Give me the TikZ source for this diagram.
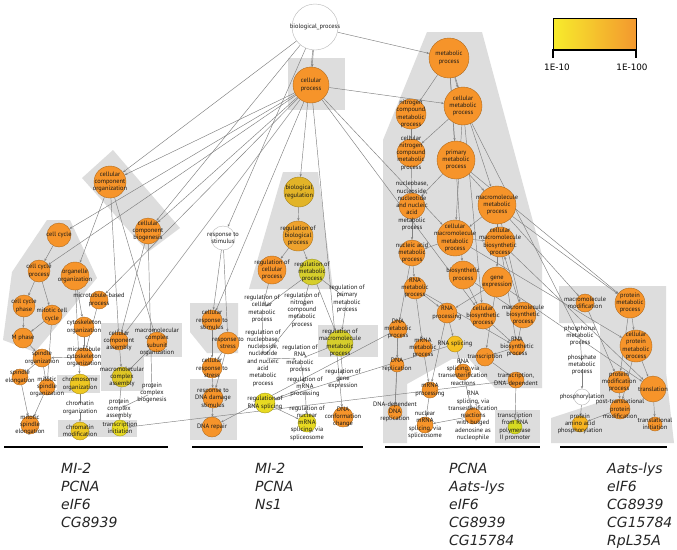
\documentclass[tikz,border=0pt]{standalone}
\usepackage{fontspec}
\setmainfont{PT Sans}
\newfontfamily\genefont{DejaVu Sans}
\usetikzlibrary{arrows.meta}
\pgfdeclarelayer{bg}
\pgfdeclarelayer{edges}
\pgfdeclarelayer{labels}
\pgfsetlayers{bg,edges,main,labels}
\definecolor{cor}{RGB}{246,148,42}
\definecolor{corl}{RGB}{238,162,45}
\definecolor{cgold}{RGB}{226,180,40}
\definecolor{cygr}{RGB}{214,206,44}
\definecolor{cyl1}{RGB}{246,192,32}
\definecolor{cyl2}{RGB}{214,218,34}
\definecolor{cyl3}{RGB}{246,180,34}
\definecolor{cyl4}{RGB}{232,218,34}
\definecolor{cyl5}{RGB}{238,200,34}
\definecolor{cyl6}{RGB}{222,198,38}
\definecolor{gbg}{RGB}{221,221,221}
\definecolor{edgec}{RGB}{128,128,128}
\definecolor{labc}{RGB}{25,25,25}
\definecolor{legy}{RGB}{247,236,44}
\definecolor{lego}{RGB}{243,152,46}
\tikzset{
  gocirc/.style={circle,inner sep=0pt,line width=0.4pt},
  golab/.style={align=center,inner sep=0pt,font=\fontsize{6.4}{7.3}\selectfont,text=labc},
  goedge/.style={draw=edgec,line width=0.45pt,-{Stealth[length=2.8pt,width=2.2pt]}},
  gene/.style={anchor=base west,inner sep=0pt,font=\genefont\itshape\fontsize{14}{16}\selectfont,text=black!85},
  legl/.style={inner sep=0pt,font=\genefont\fontsize{8.8}{10}\selectfont},
  bar/.style={line width=2.5pt,black}
}
\newcommand\gn[6]{%
  \node[gocirc,fill=#5,draw=#5!72!black,minimum size={2*#4}] (#1) at (#2,#3) {};
  \begin{pgfonlayer}{labels}\node[golab] (#1l) at (#2,#3) {#6};\end{pgfonlayer}}
\newcommand\tn[4]{%
  \node[gocirc,draw=none,fill=none,minimum size=8] (#1) at (#2,#3) {};
  \begin{pgfonlayer}{labels}\node[golab] (#1l) at (#2,#3) {#4};\end{pgfonlayer}}
\begin{document}
\begin{tikzpicture}[x=1pt,y=-1pt]
\useasboundingbox (0,0) rectangle (677,549);
\begin{pgfonlayer}{bg}
\fill[white] (0,0) rectangle (677,549);
% grey groups
\fill[gbg] (288,58) rectangle (345,110);
\fill[gbg] (427,32) -- (482,32) -- (542,255) -- (542,388) -- (495,388) -- (468,358) -- (452,359) -- (407,384) -- (407,443) -- (383,443) -- (383,140) -- cycle;
\fill[gbg] (495,410) rectangle (540,443);
\fill[gbg] (283,172) -- (318,172) -- (333,289) -- (249,289) -- cycle;
\fill[gbg] (190,303) -- (238,303) -- (238,353) -- (207,353) -- (190,332) -- cycle;
\fill[gbg] (190,379) rectangle (237,440);
\fill[gbg] (318,325) rectangle (378,357);
\fill[gbg] (47,220) -- (70,220) -- (97,278) -- (35,352) -- (3,340) -- (12,272) -- cycle;
\fill[gbg] (113,150) -- (82,178) -- (148,252) -- (180,228) -- cycle;
\fill[gbg] (57,375) rectangle (100,393);
\fill[gbg] (58,420) rectangle (100,437);
\fill[gbg] (101,323) rectangle (182,357);
\fill[gbg] (101,357) rectangle (144,391);
\fill[gbg] (100,420) rectangle (137,437);
\fill[gbg] (559,286) -- (666,286) -- (666,372) -- (674,443) -- (551,443) -- (551,418) -- (600,402) -- (600,323) -- (559,323) -- cycle;
\end{pgfonlayer}

% ---------- top
\gn{bp}{315}{27}{23}{white}{biological\_process}
\gn{cp}{311}{85}{18}{cor}{cellular\\process}
% ---------- right cluster
\gn{mp}{449}{58}{20}{cor}{metabolic\\process}
\gn{cmp}{463}{106}{19}{cor}{cellular\\metabolic\\process}
\gn{ncmp}{411}{114}{15}{cor}{nitrogen\\compound\\metabolic\\process}
\gn{cncmp}{411}{153}{14}{cor}{cellular\\nitrogen\\compound\\metabolic\\process}
\gn{pmp}{456}{160}{19}{cor}{primary\\metabolic\\process}
\gn{nnmp}{412}{206}{13}{cor}{nucleobase,\\nucleoside,\\nucleotide\\and nucleic\\acid\\metabolic\\process}
\gn{mmp}{497}{205}{19}{cor}{macromolecule\\metabolic\\process}
\gn{cmmp}{455}{238}{18}{cor}{cellular\\macromolecule\\metabolic\\process}
\gn{cmbp}{500}{242}{15}{cor}{cellular\\macromolecule\\biosynthetic\\process}
\gn{nam}{412}{253}{13}{cor}{nucleic acid\\metabolic\\process}
\gn{bsp}{463}{275}{14}{cor}{biosynthetic\\process}
\gn{ge}{497}{282}{15}{cor}{gene\\expression}
\gn{rnamp}{415}{288}{11}{cor}{RNA\\metabolic\\process}
\gn{rnaproc}{447}{313}{10}{cor}{RNA\\processing}
\gn{cbp}{483}{316}{13}{cor}{cellular\\biosynthetic\\process}
\gn{mmbp}{523}{315}{13}{cor}{macromolecule\\biosynthetic\\process}
\gn{dnamp}{398}{329}{9}{cor}{DNA\\metabolic\\process}
\gn{mrnamp}{423}{348}{9}{cor}{mRNA\\metabolic\\process}
\gn{rnaspl}{455}{344}{8}{cyl1}{RNA splicing}
\gn{rnabs}{517}{347}{8}{cor}{RNA\\biosynthetic\\process}
\gn{trans}{485}{357}{9}{cor}{transcription}
\gn{dnarep}{397}{365}{7}{cor}{DNA\\replication}
\gn{rnasplt}{463}{372}{8}{cor}{RNA\\splicing, via\\transesterification\\reactions}
\gn{transdna}{516}{380}{8}{cor}{transcription,\\DNA-dependent}
\gn{mrnaproc}{430}{390}{8}{cor}{mRNA\\processing}
\gn{dnadep}{395}{412}{7}{cor}{DNA-dependent\\DNA\\replication}
\gn{bulged}{473}{416}{8}{cor}{RNA\\splicing, via\\transesterification\\reactions\\with bulged\\adenosine as\\nucleophile}
\gn{nucspl}{425}{425}{8}{cor}{nuclear\\mRNA\\splicing, via\\spliceosome}
\gn{transpol}{515}{427}{7}{cyl2}{transcription\\from RNA\\polymerase\\II promoter}
% ---------- far right cluster
\gn{mmmod}{585}{303}{9}{cor}{macromolecule\\modification}
\gn{protmp}{630}{303}{15}{cor}{protein\\metabolic\\process}
\gn{cpmp}{636}{346}{16}{cor}{cellular\\protein\\metabolic\\process}
\tn{phosphorus}{580}{336}{phosphorus\\metabolic\\process}
\tn{phosphate}{582}{365}{phosphate\\metabolic\\process}
\gn{pmodp}{619}{382}{11}{cor}{protein\\modification\\process}
\gn{transl}{653}{389}{13}{cor}{translation}
\gn{phosphoryl}{582}{397}{8}{white}{phosphorylation}
\gn{ptpm}{620}{409}{10}{cor}{post-translational\\protein\\modification}
\gn{paap}{580}{424}{8}{cyl3}{protein\\amino acid\\phosphorylation}
\gn{tinit2}{655}{424}{7}{cor}{translational\\initiation}
% ---------- middle cluster
\gn{breg}{299}{192}{15}{cgold}{biological\\regulation}
\gn{rbp}{298}{236}{15}{corl}{regulation of\\biological\\process}
\gn{rcp}{272}{270}{14}{cor}{regulation of\\cellular\\process}
\gn{rmp}{312}{272}{13}{cygr}{regulation of\\metabolic\\process}
\gn{rs}{223}{238}{12}{white}{response to\\stimulus}
\tn{rcmp}{262}{309}{regulation of\\cellular\\metabolic\\process}
\tn{rncmp}{302}{310}{regulation of\\nitrogen\\compound\\metabolic\\process}
\tn{rpmp}{347}{299}{regulation of\\primary\\metabolic\\process}
\tn{rnuc}{263}{358}{regulation of\\nucleobase,\\nucleoside,\\nucleotide\\and nucleic\\acid\\metabolic\\process}
\tn{rrnamp}{300}{359}{regulation of\\RNA\\metabolic\\process}
\gn{rmmp}{340}{343}{13}{cygr}{regulation of\\macromolecule\\metabolic\\process}
\tn{rge}{343}{379}{regulation of\\gene\\expression}
\tn{rmrna}{305}{387}{regulation of\\mRNA\\processing}
\gn{rrnaspl}{265}{403}{10}{cyl4}{regulation of\\RNA splicing}
\gn{rnucspl}{307}{423}{9}{cyl4}{regulation of\\nuclear\\mRNA\\splicing, via\\spliceosome}
\gn{dnacc}{343}{417}{10}{cor}{DNA\\conformation\\change}
\gn{crs}{212}{320}{10}{cor}{cellular\\response to\\stimulus}
\gn{rstress}{228}{343}{11}{cor}{response to\\stress}
\gn{crstress}{212}{368}{10}{cor}{cellular\\response to\\stress}
\gn{rdna}{213}{398}{10}{cor}{response to\\DNA damage\\stimulus}
\gn{dnarepair}{212}{427}{10}{cor}{DNA repair}
% ---------- left cluster
\gn{ccorg}{110}{182}{16}{cor}{cellular\\component\\organization}
\gn{ccbio}{148}{231}{13}{cor}{cellular\\component\\biogenesis}
\gn{cc}{59}{235}{12}{cor}{cell cycle}
\gn{ccp}{39}{271}{11}{cor}{cell cycle\\process}
\gn{ocorg}{75}{276}{14}{cor}{organelle\\organization}
\gn{mtbp}{99}{300}{9}{cor}{microtubule-based\\process}
\gn{ccphase}{24}{306}{11}{cor}{cell cycle\\phase}
\gn{mcc}{52}{315}{10}{cor}{mitotic cell\\cycle}
\gn{cytorg}{84}{327}{10}{cor}{cytoskeleton\\organization}
\gn{mphase}{23}{338}{10}{cor}{M phase}
\gn{sporg}{42}{358}{9}{cor}{spindle\\organization}
\gn{mtcorg}{84}{357}{9}{cor}{microtubule\\cytoskeleton\\organization}
\gn{spel}{20}{377}{8}{cor}{spindle\\elongation}
\gn{mso}{47}{387}{8}{cor}{mitotic\\spindle\\organization}
\gn{chromorg}{80}{384}{10}{cyl5}{chromosome\\organization}
\tn{chrmorg}{80}{408}{chromatin\\organization}
\gn{chrmmod}{80}{431}{9}{cyl5}{chromatin\\modification}
\gn{mspel}{30}{425}{9}{cor}{mitotic\\spindle\\elongation}
\gn{ccasm}{119}{341}{9}{cor}{cellular\\component\\assembly}
\gn{mccso}{157}{342}{10}{cor}{macromolecular\\complex\\subunit\\organization}
\gn{mcasm}{122}{377}{10}{cyl6}{macromolecular\\complex\\assembly}
\tn{pcbio}{152}{393}{protein\\complex\\biogenesis}
\tn{pcasm}{119}{409}{protein\\complex\\assembly}
\gn{tinit}{120}{428}{8}{cyl4}{transcription\\initiation}

% ---------- connectors
\begin{pgfonlayer}{edges}
\foreach \a/\b in {bp/cp, bp/mp, bp/rs, bp/breg, bp/ccorg, bp/ccbio,
  cp/cc, cp/ccp, cp/ccorg, cp/ccbio, cp/mtbp, cp/crs, cp/ccasm, cp/cmp, cp/cmmp, cp/dnacc, cp/cbp,
  mp/cmp, mp/ncmp, mp/pmp, mp/mmp, mp/bsp,
  cmp/cncmp, cmp/cmmp, cmp/cbp, cmp/phosphorus,
  ncmp/cncmp, cncmp/nnmp, pmp/nnmp, pmp/mmp, pmp/protmp,
  nnmp/nam, mmp/cmmp, mmp/mmbp, mmp/mmmod, mmp/protmp, mmp/ge,
  cmmp/nam, cmmp/cmbp, cmmp/cpmp,
  cmbp/transl, cmbp/rnabs,
  nam/rnamp, nam/dnamp,
  bsp/cbp, bsp/mmbp,
  ge/trans, ge/rnaproc, ge/transl,
  cbp/rnabs, mmbp/rnabs, mmbp/cmbp,
  rnamp/rnaproc, rnamp/mrnamp, rnamp/rnabs,
  dnamp/dnarep, dnamp/dnarepair, dnamp/dnadep,
  rnaproc/rnaspl, rnaproc/mrnaproc, mrnamp/mrnaproc,
  rnaspl/rnasplt, rnasplt/bulged, mrnaproc/nucspl, bulged/nucspl,
  rnabs/trans, trans/transdna, transdna/transpol, transdna/tinit,
  dnarep/dnadep,
  protmp/cpmp, protmp/pmodp, cpmp/transl, cpmp/ptpm, mmmod/pmodp,
  phosphorus/phosphate, phosphate/phosphoryl, phosphoryl/paap, pmodp/ptpm, ptpm/paap, transl/tinit2,
  breg/rbp, rbp/rcp, rbp/rmp, rcp/rcmp, rmp/rcmp, rmp/rncmp, rmp/rpmp, rmp/rmmp,
  rcmp/rnuc, rncmp/rnuc, rpmp/rmmp, rmmp/rge, rmmp/rrnamp, rnuc/rrnamp, rrnamp/rmrna,
  rmrna/rrnaspl, rmrna/rnucspl, rrnaspl/rnucspl, rnaspl/rrnaspl,
  rs/crs, rs/rstress, crs/crstress, rstress/crstress, rstress/rdna, crstress/rdna, rdna/dnarepair,
  ccorg/ocorg, ccorg/ccasm, ccorg/mccso, ccbio/ccasm, ccbio/pcbio,
  cc/ccp, ccp/ccphase, ccp/mcc, ocorg/cytorg, ocorg/chromorg, ccphase/mphase, mcc/mphase, mcc/mso,
  mphase/sporg, mtbp/mtcorg, cytorg/mtcorg, mtcorg/sporg, sporg/spel, sporg/mso, spel/mspel, mso/mspel,
  chromorg/chrmorg, chrmorg/chrmmod, ccasm/mcasm, mccso/mcasm, mcasm/pcasm, pcbio/pcasm, pcasm/tinit}
  \draw[goedge] (\a) -- (\b);
\end{pgfonlayer}

% ---------- legend
\shade[left color=legy,right color=lego] (553,18) rectangle (636,50);
\draw[line width=1pt] (553,18) rectangle (636,50);
\draw[line width=1.6pt] (553,58) -- (553,50) -- (636,50) -- (636,58);
\node[legl] (lega) at (557,67) {1E-10};
\node[legl] (legb) at (632,67) {1E-100};

% ---------- bars and gene lists
\draw[bar] (4,447) -- (168,447);
\draw[bar] (192,447) -- (363,447);
\draw[bar] (385,447) -- (540,447);
\draw[bar] (560,447) -- (667,447);
\foreach \t [count=\i] in {MI-2,PCNA,eIF6,CG8939}
  \node[gene] (ga\i) at (61,{473+18.2*(\i-1)}) {\t};
\foreach \t [count=\i] in {MI-2,PCNA,Ns1}
  \node[gene] (gb\i) at (255,{473+18.2*(\i-1)}) {\t};
\foreach \t [count=\i] in {PCNA,Aats-lys,eIF6,CG8939,CG15784}
  \node[gene] (gc\i) at (449,{473+18.2*(\i-1)}) {\t};
\foreach \t [count=\i] in {Aats-lys,eIF6,CG8939,CG15784,RpL35A}
  \node[gene] (gd\i) at (607,{473+18.2*(\i-1)}) {\t};
\end{tikzpicture}
\end{document}
